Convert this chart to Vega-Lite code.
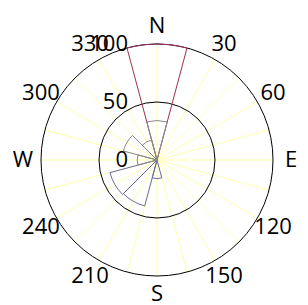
{
  "$schema": "https://vega.github.io/schema/vega-lite/v6.json",
  "width": 300,
  "height": 290,
  "autosize": {"type": "none"},
  "padding": {"left": 7, "top": 15, "right": 1, "bottom": 0},
  "config": {"view": {"stroke": null}},
  "datasets": {
    "spokes": [{"dir":0},{"dir":15},{"dir":30},{"dir":45},{"dir":60},{"dir":75},{"dir":90},{"dir":105},{"dir":120},{"dir":135},{"dir":150},{"dir":165},{"dir":180},{"dir":195},{"dir":210},{"dir":225},{"dir":240},{"dir":255},{"dir":270},{"dir":285},{"dir":300},{"dir":315},{"dir":330},{"dir":345}],
    "rings": [{"r": 50}, {"r": 100}],
    "wedges": [
      {"series": "C", "start": -15, "end": 15, "value": 100},
      {"series": "B", "start": 165, "end": 195, "value": 16},
      {"series": "B", "start": 195, "end": 225, "value": 41},
      {"series": "B", "start": 225, "end": 255, "value": 42},
      {"series": "A", "start": 255, "end": 285, "value": 17},
      {"series": "A", "start": 285, "end": 315, "value": 30},
      {"series": "A", "start": 315, "end": 345, "value": 18},
      {"series": "A", "start": -15, "end": 15, "value": 34}
    ],
    "dirLabels": [
      {"dir": 0, "label": "N"}, {"dir": 30, "label": "30"}, {"dir": 60, "label": "60"},
      {"dir": 90, "label": "E"}, {"dir": 120, "label": "120"}, {"dir": 150, "label": "150"},
      {"dir": 180, "label": "S"}, {"dir": 210, "label": "210"}, {"dir": 240, "label": "240"},
      {"dir": 270, "label": "W"}, {"dir": 300, "label": "300"}, {"dir": 330, "label": "330"}
    ],
    "radLabels": [{"r": 0, "label": "0"}, {"r": 50, "label": "50"}, {"r": 100, "label": "100"}]
  },
  "layer": [
    {
      "data": {"name": "spokes"},
      "mark": {"type": "arc", "filled": false, "stroke": "#ffffc0", "strokeWidth": 1},
      "encoding": {
        "theta": {"field": "dir", "type": "quantitative", "stack": null, "scale": {"type": "linear", "domain": [0, 360], "range": [0, 6.283185307179586]}},
        "theta2": {"field": "dir"},
        "radius": {"datum": 100, "type": "quantitative", "scale": {"type": "linear", "domain": [0, 100], "range": [0, 116], "zero": true}},
        "radius2": {"datum": 0}
      }
    },
    {
      "data": {"name": "rings"},
      "mark": {"type": "arc", "filled": false, "stroke": "#000000", "strokeWidth": 1},
      "encoding": {
        "theta": {"datum": 0, "type": "quantitative", "stack": null, "scale": {"type": "linear", "domain": [0, 360], "range": [0, 6.283185307179586]}},
        "theta2": {"datum": 360},
        "radius": {"field": "r", "type": "quantitative", "scale": {"type": "linear", "domain": [0, 100], "range": [0, 116], "zero": true}},
        "radius2": {"datum": 0}
      }
    },
    {
      "data": {"name": "wedges"},
      "mark": {"type": "arc", "filled": false, "strokeWidth": 1},
      "encoding": {
        "theta": {"field": "start", "type": "quantitative", "stack": null, "scale": {"type": "linear", "domain": [0, 360], "range": [0, 6.283185307179586]}},
        "theta2": {"field": "end"},
        "radius": {"field": "value", "type": "quantitative", "scale": {"type": "linear", "domain": [0, 100], "range": [0, 116], "zero": true}},
        "radius2": {"datum": 0},
        "stroke": {"field": "series", "type": "nominal", "legend": null, "scale": {"domain": ["A", "B", "C"], "range": ["#8a8a8a", "#6a6aa6", "#993366"]}}
      }
    },
    {
      "data": {"name": "dirLabels"},
      "mark": {"type": "text", "radius": 134, "fontSize": 22, "font": "Open Sans", "color": "#000000", "align": "center", "baseline": "middle"},
      "encoding": {
        "theta": {"field": "dir", "type": "quantitative", "stack": null, "scale": {"type": "linear", "domain": [0, 360], "range": [0, 6.283185307179586]}},
        "text": {"field": "label"}
      }
    },
    {
      "data": {"name": "radLabels"},
      "mark": {"type": "text", "fontSize": 22, "font": "Open Sans", "color": "#000000", "align": "right", "baseline": "middle", "dx": -29},
      "encoding": {
        "theta": {"datum": 0, "type": "quantitative", "stack": null, "scale": {"type": "linear", "domain": [0, 360], "range": [0, 6.283185307179586]}},
        "radius": {"field": "r", "type": "quantitative", "scale": {"type": "linear", "domain": [0, 100], "range": [0, 116], "zero": true}},
        "text": {"field": "label"}
      }
    }
  ]
}
